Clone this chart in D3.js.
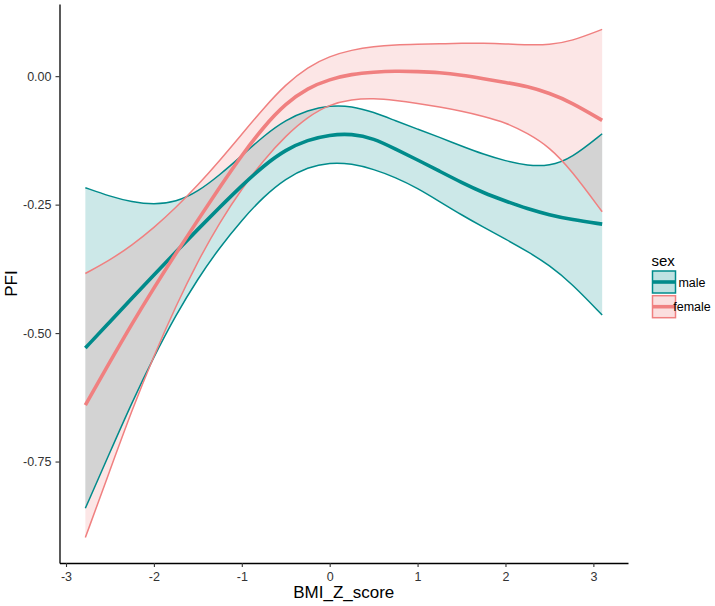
<!DOCTYPE html>
<html>
<head>
<meta charset="utf-8">
<script src="https://cdn.jsdelivr.net/npm/d3@7"></script>
<style>
    body { margin: 0; background: #fff; }
    svg { display: block; }
</style>
</head>
<body>
<div id="chart"></div>
<script>
// smooth fits, one value per BMI_Z_score point
const bmiZ = [-2.78, -2.5, -2.25, -2, -1.75, -1.5, -1.25, -1, -0.75, -0.5, -0.25, 0,
    0.25, 0.5, 0.75, 1, 1.25, 1.5, 1.75, 2, 2.25, 2.5, 2.75, 3.1];

const maleFit = [-0.529, -0.478, -0.432, -0.387, -0.342, -0.298, -0.255, -0.213, -0.174, -0.143, -0.124, -0.114,
    -0.112, -0.121, -0.142, -0.163, -0.185, -0.207, -0.227, -0.243, -0.258, -0.270, -0.279, -0.288];
const maleUpper = [-0.217, -0.234, -0.245, -0.250, -0.245, -0.225, -0.192, -0.155, -0.116, -0.085, -0.066, -0.057,
    -0.058, -0.070, -0.087, -0.103, -0.119, -0.136, -0.152, -0.165, -0.174, -0.175, -0.160, -0.112];
const maleLower = [-0.841, -0.732, -0.635, -0.546, -0.465, -0.394, -0.333, -0.280, -0.234, -0.199, -0.177, -0.168,
    -0.170, -0.181, -0.197, -0.218, -0.244, -0.270, -0.294, -0.317, -0.341, -0.368, -0.403, -0.465];

const femaleFit = [-0.640, -0.556, -0.482, -0.412, -0.345, -0.280, -0.216, -0.154, -0.098, -0.053, -0.023, -0.006,
    0.004, 0.008, 0.010, 0.009, 0.007, 0.002, -0.005, -0.012, -0.020, -0.033, -0.051, -0.086];
const femaleUpper = [-0.384, -0.358, -0.329, -0.295, -0.256, -0.212, -0.164, -0.113, -0.062, -0.016, 0.018, 0.039,
    0.051, 0.058, 0.061, 0.062, 0.063, 0.064, 0.064, 0.063, 0.061, 0.061, 0.068, 0.091];
const femaleLower = [-0.898, -0.767, -0.650, -0.544, -0.447, -0.360, -0.284, -0.219, -0.163, -0.116, -0.079, -0.055,
    -0.045, -0.043, -0.047, -0.053, -0.060, -0.068, -0.078, -0.090, -0.111, -0.138, -0.183, -0.264];

const sexLevels = ["male", "female"];
const xTicks = [-3, -2, -1, 0, 1, 2, 3];
const yTicks = [0, -0.25, -0.5, -0.75];

const COLORS = {male: "#008B8B", female: "#F08080"};
const FONT = "'Liberation Sans', Arial, Helvetica, sans-serif";
const WIDTH = 715, HEIGHT = 606;
const PANEL = {left: 59.5, right: 628, top: 4, bottom: 563};

const groups = [
    {sex: "male", fit: maleFit, lo: maleLower, hi: maleUpper},
    {sex: "female", fit: femaleFit, lo: femaleLower, hi: femaleUpper}
].map(g => ({
    sex: g.sex,
    rows: bmiZ.map((x, i) => ({x: x, fit: g.fit[i], lo: g.lo[i], hi: g.hi[i]}))
}));

// ggplot-like 5% expansion of the data range
function expand(ext) {
    let pad = (ext[1] - ext[0]) * 0.05;
    return [ext[0] - pad, ext[1] + pad];
}

let allY = maleLower.concat(maleUpper, femaleLower, femaleUpper);
let x = d3.scaleLinear().domain(expand(d3.extent(bmiZ))).range([PANEL.left, PANEL.right]);
let y = d3.scaleLinear().domain(expand(d3.extent(allY))).range([PANEL.bottom, PANEL.top]);

let svg = d3.select("#chart").append("svg")
    .attr("width", WIDTH)
    .attr("height", HEIGHT);

let curve = d3.curveBasis;

let ribbon = d3.area()
    .x(d => x(d.x))
    .y0(d => y(d.lo))
    .y1(d => y(d.hi))
    .curve(curve);

function lineOf(key) {
    return d3.line().x(d => x(d.x)).y(d => y(d[key])).curve(curve);
}

// ribbons first, then the bounds and fits
svg.selectAll("path.ribbon")
    .data(groups)
    .enter()
    .append("path")
    .attr("class", "ribbon")
    .attr("d", d => ribbon(d.rows))
    .attr("fill", d => COLORS[d.sex])
    .attr("fill-opacity", 0.2);

groups.forEach(function (g) {
    ["lo", "hi"].forEach(function (k) {
        svg.append("path")
            .datum(g.rows)
            .attr("fill", "none")
            .attr("stroke", COLORS[g.sex])
            .attr("stroke-width", 1.5)
            .attr("d", lineOf(k));
    });
});

groups.forEach(function (g) {
    svg.append("path")
        .datum(g.rows)
        .attr("fill", "none")
        .attr("stroke", COLORS[g.sex])
        .attr("stroke-width", 3.6)
        .attr("d", lineOf("fit"));
});

// axes
let xAxis = svg.append("g")
    .attr("transform", "translate(0," + PANEL.bottom + ")")
    .call(d3.axisBottom(x).tickValues(xTicks).tickSize(4).tickSizeOuter(0).tickPadding(5)
        .tickFormat(d => String(d)));

let yAxis = svg.append("g")
    .attr("transform", "translate(" + PANEL.left + ",0)")
    .call(d3.axisLeft(y).tickValues(yTicks).tickSize(4).tickSizeOuter(0).tickPadding(4)
        .tickFormat(d => d3.format(".2f")(d).replace("−", "-")));

[xAxis, yAxis].forEach(function (a) {
    a.select(".domain").attr("stroke", "#000").attr("stroke-width", 1.3);
    a.selectAll(".tick line").attr("stroke", "#333").attr("stroke-width", 1.1);
    a.selectAll(".tick text")
        .style("fill", "#333")
        .style("font-family", FONT)
        .style("font-size", "12.5px");
});

svg.append("text")
    .attr("x", (PANEL.left + PANEL.right) / 2)
    .attr("y", 598)
    .style("text-anchor", "middle")
    .style("font-family", FONT)
    .style("font-size", "17px")
    .text("BMI_Z_score");

svg.append("text")
    .attr("transform", "rotate(-90)")
    .attr("x", -(PANEL.top + PANEL.bottom) / 2)
    .attr("y", 17)
    .style("text-anchor", "middle")
    .style("font-family", FONT)
    .style("font-size", "17px")
    .text("PFI");

// legend
let legend = svg.append("g").attr("transform", "translate(652.5,0)");

legend.append("text")
    .attr("x", -1)
    .attr("y", 266)
    .style("font-family", FONT)
    .style("font-size", "15px")
    .text("sex");

let keys = legend.selectAll("g.key")
    .data(sexLevels)
    .enter()
    .append("g")
    .attr("class", "key")
    .attr("transform", (d, i) => "translate(0," + (271 + i * 24.7) + ")");

keys.append("rect")
    .attr("width", 23)
    .attr("height", 22)
    .attr("fill", d => COLORS[d])
    .attr("fill-opacity", 0.25)
    .attr("stroke", d => COLORS[d])
    .attr("stroke-width", 1.5);

keys.append("line")
    .attr("x1", 0)
    .attr("x2", 23)
    .attr("y1", 11)
    .attr("y2", 11)
    .attr("stroke", d => COLORS[d])
    .attr("stroke-width", 3.6);

keys.append("text")
    .attr("x", 39.5)
    .attr("y", 15.5)
    .style("text-anchor", "middle")
    .style("font-family", FONT)
    .style("font-size", "12.5px")
    .text(d => d);
</script>
</body>
</html>
